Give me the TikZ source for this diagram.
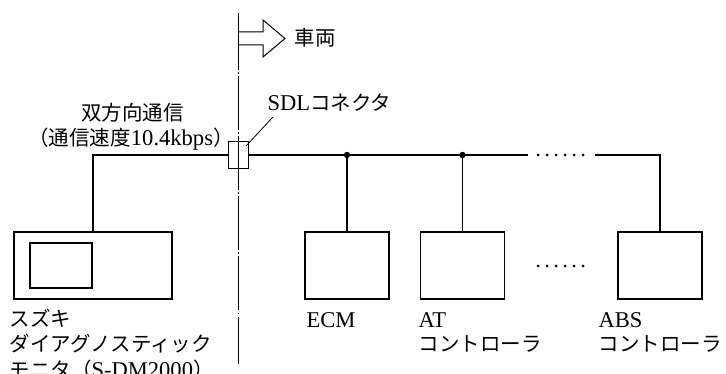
\documentclass[tikz,border=0pt]{standalone}
\usepackage{fontspec}
\setmainfont{Liberation Serif}[Scale=1.1]
\newfontfamily\jp{Noto Sans CJK JP}
\begin{document}
\begin{tikzpicture}[x=1pt,y=-1pt,line width=1.1pt,
  box/.style={draw,minimum width=84pt,minimum height=67pt,inner sep=0pt},
  lbl/.style={anchor=base west,inner sep=0pt,font=\fontsize{20.5}{24}\selectfont},
  chain/.style={dash pattern=on 53.5pt off 2.5pt on 1.5pt off 2.5pt,line width=0.9pt},
  leader/.style={line width=0.8pt}]
\useasboundingbox (0,0) rectangle (726,374);
% boundary line
\draw[line width=0.9pt] (238,13) -- (238,17);
\draw[chain] (238,16.5) -- (238,364);
% hollow arrow
\draw[line width=1pt,line join=miter] (238,32) -- (263,32) -- (263,20) -- (285,38.5) -- (263,57) -- (263,45) -- (238,45);
\node[lbl] (car) at (294,46) {\jp 車両};
% boxes
\node[box,minimum width=158pt] (sdm) at (93,265.5) {};
\node[draw,minimum width=62pt,minimum height=45pt,inner sep=0pt] (scr) at (61,265.5) {};
\node[box] (ecm) at (347,265.5) {};
\node[box] (at) at (462.5,265.5) {};
\node[box] (abs) at (660,265.5) {};
% connector
\node[draw,minimum width=20pt,minimum height=27pt,inner sep=0pt] (sdl) at (238.5,155) {};
\coordinate (j1) at (347,155);
\coordinate (j2) at (462.5,155);
\coordinate (g1) at (528,155);
\coordinate (g2) at (595,155);
% bus
\draw (sdm.north) |- (sdl.west);
\draw (sdl.east) -- (j1) -- (j2) -- (g1);
\draw (g2) -| (abs.north);
\draw (j1) -- (ecm.north);
\draw (j2) -- (at.north);
\fill (j1) circle (3.2);
\fill (j2) circle (3.2);
\foreach \i in {0,...,5} {
  \fill (538+9*\i,155) circle (1.5);
  \fill (538+9*\i,266) circle (1.5);
}
% labels
\node[lbl] (sdltxt) at (267,110.5) {SDL{\jp コネクタ}};
\coordinate (ldrTop) at (273,117);
\coordinate (ldrEnd) at (246,146);
\draw[leader] (ldrTop) -- (ldrEnd);
\node[lbl,anchor=base] (bidir) at (132.5,121) {\jp 双方向通信};
\node[lbl,anchor=base] (speed) at (131,146) {{\jp （通信速度}10.4kbps{\jp ）}};
\node[lbl] (sdm1) at (9,326.5) {\jp スズキ};
\node[lbl] (sdm2) at (9,351) {\jp ダイアグノスティック};
\node[lbl] (sdm3) at (9,377) {{\jp モニタ（}S-DM2000{\jp ）}};
\node[lbl] (ecmL) at (306,327.5) {ECM};
\node[lbl] (atL1) at (418,327.5) {AT};
\node[lbl] (atL2) at (418,352) {\jp コントローラ};
\node[lbl] (absL1) at (598,327.5) {ABS};
\node[lbl] (absL2) at (598,352) {\jp コントローラ};
\end{tikzpicture}
\end{document}
